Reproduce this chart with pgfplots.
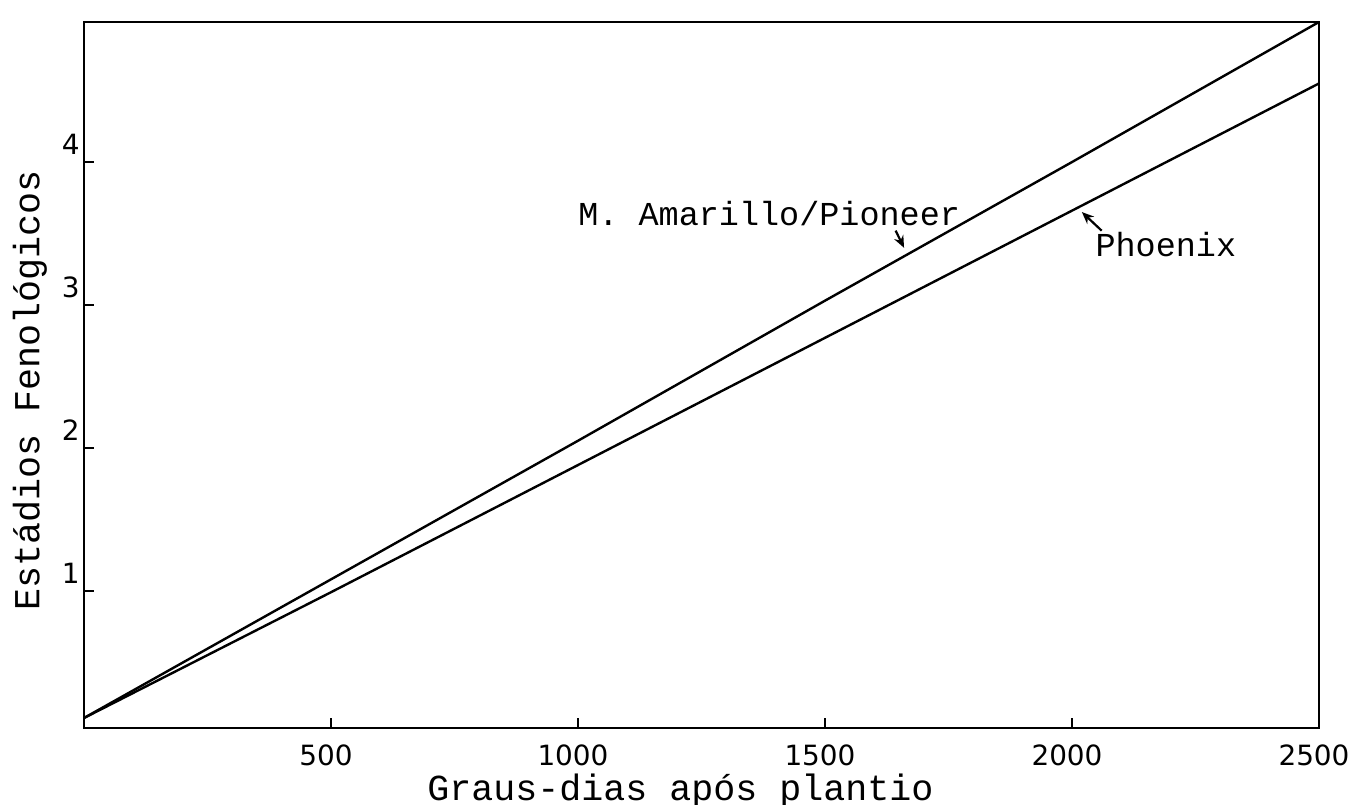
\documentclass[border=0pt]{standalone}
\usepackage{fontspec}
\setmainfont{Liberation Mono}
\newfontfamily\tickfont{DejaVu Sans}
\usepackage{pgfplots}
\pgfplotsset{compat=1.18}
\usetikzlibrary{arrows.meta}

\begin{document}
\begin{tikzpicture}
  \begin{axis}[
    scale only axis,
    width=617.5bp, height=353bp,
    xmin=0, xmax=2500, ymin=0.04, ymax=4.98,
    axis line style={line width=1bp},
    xtick={500,1000,1500,2000,2500},
    ytick={1,2,3,4},
    xtick pos=bottom, ytick pos=left,
    tick align=inside,
    major tick length=5bp,
    tick style={line width=0.9bp, black},
    /pgf/number format/assume math mode=true,
    /pgf/number format/1000 sep={},
    ticklabel style={font=\tickfont\fontsize{14}{16}\selectfont},
    xticklabel style={xshift=-2.5bp, inner sep=1bp, yshift=-7bp},
    yticklabel style={anchor=south east, inner sep=2bp, yshift=1.5bp},
    xlabel={Graus-dias após plantio},
    ylabel={Estádios Fenológicos},
    label style={font=\fontsize{18.4}{20}\selectfont, inner sep=0pt},
    xlabel style={at={([shift={(-10.5bp,-36bp)}]rel axis cs:0.5,0)}, anchor=base},
    ylabel style={at={([shift={(-27bp,-7.5bp)}]rel axis cs:0,0.5)}, anchor=center},
    clip=false,
  ]
    \coordinate (bl) at (rel axis cs:0,0);
    \coordinate (tr) at (rel axis cs:1,1);

    % M. Amarillo / Pioneer
    \addplot[black, line width=1.2bp] coordinates {
      (0,0.11) (500,1.08) (1000,2.05) (1500,3.03) (2000,4.00) (2500,4.98)
    };
    % Phoenix
    \addplot[black, line width=1.2bp] coordinates {
      (0,0.11) (500,0.99) (1000,1.88) (1500,2.77) (2000,3.66) (2500,4.55)
    };

    \node[font=\fontsize{16.8}{18}\selectfont] at (axis cs:1387,3.64) {M. Amarillo/Pioneer};
    \draw[-{Stealth[length=6bp,width=5bp]}, line width=1.1bp] (axis cs:1643,3.52) -- (axis cs:1660,3.40);

    \node[font=\fontsize{16.8}{18}\selectfont] at (axis cs:2190,3.42) {Phoenix};
    \draw[-{Stealth[length=6bp,width=5bp]}, line width=1.1bp] (axis cs:2060,3.52) -- (axis cs:2020,3.65);
  \end{axis}
  \pgfresetboundingbox
  \path[use as bounding box] ([shift={(-42bp,-38.5bp)}]bl) rectangle ([shift={(18bp,11bp)}]tr);
\end{tikzpicture}
\end{document}
